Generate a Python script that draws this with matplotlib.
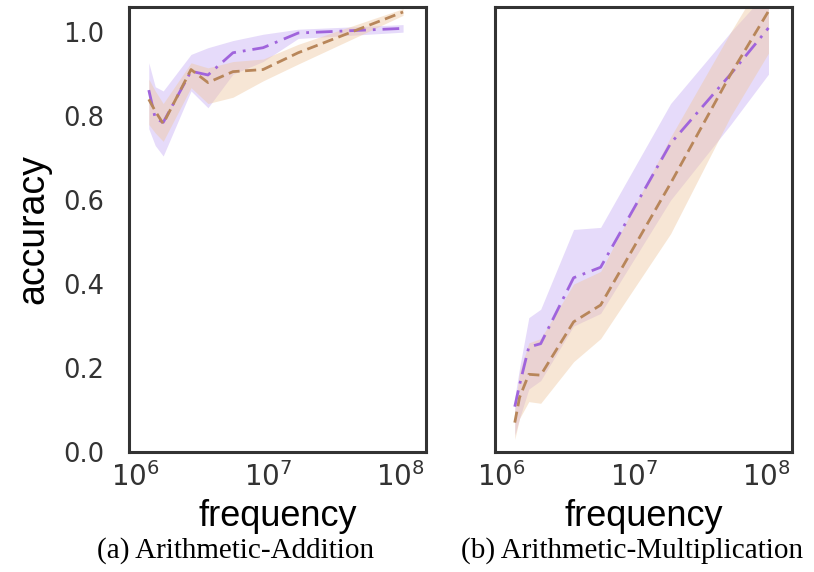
import numpy as np
import matplotlib.pyplot as plt

# %%
# values (accuracy vs frequency, log x)
add_freq = [1.27e6, 1.42e6, 1.63e6, 2.64e6, 3.54e6, 5.46e6, 9.2e6, 1.69e7, 1.04e8]
add_purple = [0.862, 0.795, 0.785, 0.907, 0.898, 0.951, 0.963, 0.998, 1.009]
add_purple_lo = [0.77, 0.73, 0.705, 0.86, 0.82, 0.90, 0.93, 0.985, 1.000]
add_purple_hi = [0.927, 0.87, 0.86, 0.947, 0.963, 0.98, 0.995, 1.007, 1.018]
add_orange = [0.840, 0.812, 0.782, 0.911, 0.880, 0.906, 0.911, 0.951, 1.048]
add_orange_lo = [0.78, 0.76, 0.74, 0.868, 0.83, 0.845, 0.884, 0.924, 1.040]
add_orange_hi = [0.888, 0.86, 0.83, 0.927, 0.915, 0.93, 0.936, 0.971, 1.056]

mul_freq = [1.27e6, 1.38e6, 1.62e6, 1.99e6, 3.52e6, 5.62e6, 1.89e7, 5.35e7, 1.03e8]
mul_purple = [0.108, 0.16, 0.25, 0.258, 0.415, 0.44, 0.735, 0.90, 1.01]
mul_purple_lo = [0.04, 0.08, 0.15, 0.17, 0.30, 0.33, 0.60, 0.78, 0.90]
mul_purple_hi = [0.13, 0.20, 0.32, 0.34, 0.53, 0.535, 0.83, 1.00, 1.10]
mul_orange = [0.07, 0.13, 0.185, 0.183, 0.31, 0.35, 0.64, 0.90, 1.05]
mul_orange_lo = [0.03, 0.08, 0.12, 0.116, 0.215, 0.27, 0.52, 0.80, 0.95]
mul_orange_hi = [0.10, 0.19, 0.26, 0.27, 0.40, 0.43, 0.75, 1.00, 1.15]

captions = ["(a) Arithmetic-Addition", "(b) Arithmetic-Multiplication"]

purple = '#a064dc'
orange = '#b8865a'
purple_fill = '#c8b0f4'
orange_fill = '#efc9a2'

# %%
fig = plt.figure(figsize=(8.14, 5.72), dpi=100)
ax1 = fig.add_axes([0.1585, 0.2098, 0.3649, 0.778])
ax2 = fig.add_axes([0.6081, 0.2098, 0.3649, 0.778])

panels = [
    (ax1, add_freq, add_purple, add_purple_lo, add_purple_hi, add_orange, add_orange_lo, add_orange_hi),
    (ax2, mul_freq, mul_purple, mul_purple_lo, mul_purple_hi, mul_orange, mul_orange_lo, mul_orange_hi),
]

for ax, f, p, plo, phi, o, olo, ohi in panels:
    ax.fill_between(f, plo, phi, color=purple_fill, alpha=0.45, lw=0)
    ax.fill_between(f, olo, ohi, color=orange_fill, alpha=0.45, lw=0)
    ax.plot(f, p, color=purple, lw=2, linestyle=(0, (6, 2.5, 1, 2.5)))
    ax.plot(f, o, color=orange, lw=2, linestyle=(0, (4, 2)))
    ax.set_xscale('log')
    ax.set_xlim(10**5.955, 10**8.19)
    ax.set_ylim(0, 1.06)
    ax.set_xticks([1e6, 1e7, 1e8])
    ax.minorticks_off()
    ax.tick_params(axis='x', length=0, labelsize=20, labelcolor='#333333', pad=7)
    ax.tick_params(axis='y', length=0, labelsize=18.5, labelcolor='#333333', pad=18)
    for s in ax.spines.values():
        s.set_color('#333333')
        s.set_linewidth(2.2)
    ax.set_xlabel('frequency', fontsize=26, family='Liberation Sans', labelpad=5)

ax1.set_yticks([0.0, 0.2, 0.4, 0.6, 0.8, 1.0])
ax1.set_yticklabels(['0.0', '0.2', '0.4', '0.6', '0.8', '1.0'])
ax1.set_ylabel('accuracy', fontsize=27, family='Liberation Sans', labelpad=8)
ax2.set_yticks([])

fig.text(0.290, 0.037, captions[0], ha='center', va='center', fontsize=21, family='Liberation Serif')
fig.text(0.777, 0.037, captions[1], ha='center', va='center', fontsize=21, family='Liberation Serif')

fig.savefig('out.png', dpi=100)
